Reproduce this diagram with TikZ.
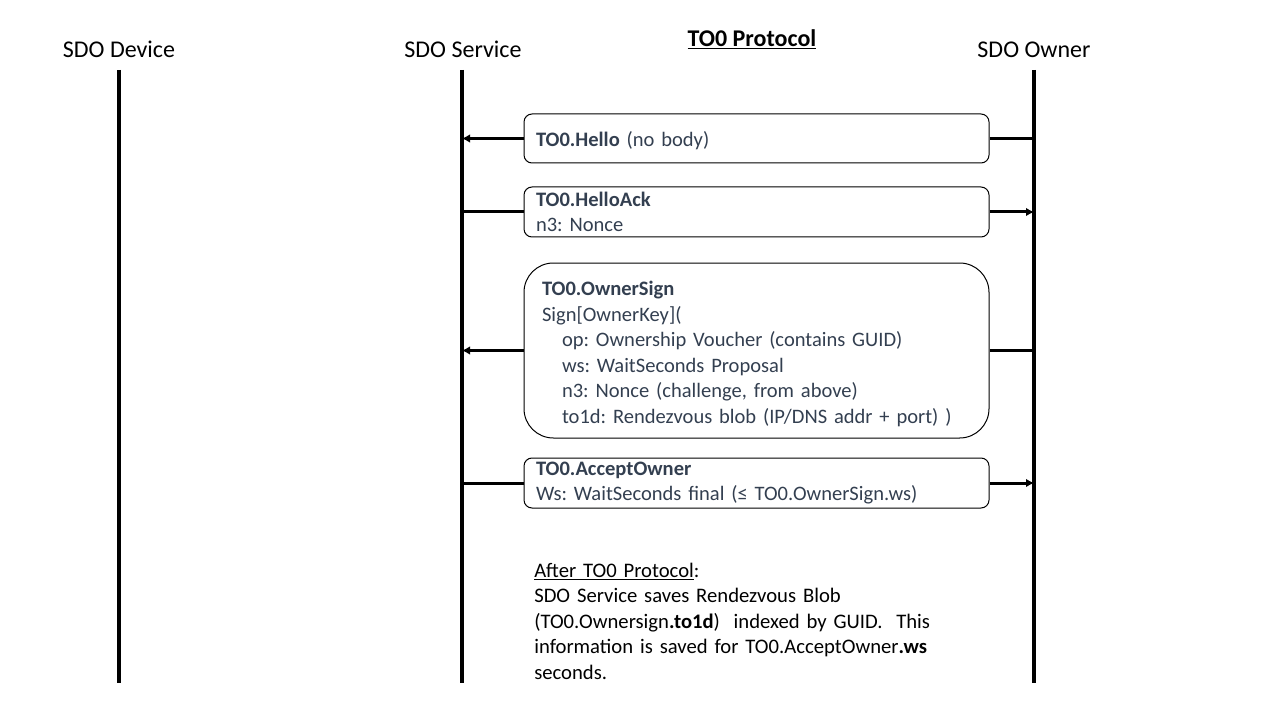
\documentclass[tikz,border=0pt]{standalone}
\usepackage{fontspec}
\setmainfont{Carlito}
\usetikzlibrary{arrows.meta, positioning}
\definecolor{slate}{RGB}{51,63,80}
\frenchspacing
\tikzset{
  lifeline/.style={line width=3pt},
  actor/.style={font=\fontsize{18}{21.6}\selectfont, anchor=base},
  msgbox/.style={draw, line width=0.75pt, rounded corners=6pt, align=left, text=slate,
    font=\fontsize{15.4}{19.2}\selectfont, inner xsep=9pt, inner ysep=1pt, text width=330.75pt},
  msgline/.style={line width=2.25pt},
  msgarrow/.style={msgline, -{Latex[length=6pt,width=6.5pt]}}
}

\begin{document}
\begin{tikzpicture}[x=0.75pt, y=-0.75pt]
  \useasboundingbox (0,0) rectangle (1280,720);
  % actors and lifelines
  \node[actor] (dev) at (119,57.5) {SDO Device};
  \node[actor] (svc) at (463,57.5) {SDO Service};
  \node[actor] (own) at (1034,57.5) {SDO Owner};
  \node[actor, font=\fontsize{18}{21.6}\selectfont\bfseries] (title) at (752,46.5) {\underline{TO0 Protocol}};
  \coordinate (devtop) at (119,70);  \coordinate (devbot) at (119,683);
  \coordinate (svctop) at (462,70);  \coordinate (svcbot) at (462,683);
  \coordinate (owntop) at (1034,70); \coordinate (ownbot) at (1034,683);
  \draw[lifeline] (devtop) -- (devbot);
  \draw[lifeline] (svctop) -- (svcbot);
  \draw[lifeline] (owntop) -- (ownbot);

  % TO0.Hello
  \node[msgbox, minimum height=36.75pt, text depth=0pt] (hello) at (756.5,138.5) {\textbf{TO0.Hello} (no body)};
  \draw[msgline] (hello.east) -- (owntop |- hello.east);
  \draw[msgarrow] (hello.west) -- (svctop |- hello.west);

  % TO0.HelloAck
  \node[msgbox, minimum height=37.5pt] (helloack) at (756.5,212) {\textbf{TO0.HelloAck}\\n3: Nonce};
  \draw[msgline] (helloack.west) -- (svctop |- helloack.west);
  \draw[msgarrow] (helloack.east) -- (owntop |- helloack.east);

  % TO0.OwnerSign
  \node[msgbox, rounded corners=22pt, inner xsep=13.5pt, text width=321.75pt, minimum height=131.25pt]
    (ownersign) at (756.5,350.5) {\rule{0pt}{16pt}\textbf{TO0.OwnerSign}\\
    Sign[OwnerKey](\\
    \hspace*{15pt}op: Ownership Voucher (contains GUID)\\
    \hspace*{15pt}ws: WaitSeconds Proposal\\
    \hspace*{15pt}n3: Nonce (challenge, from above)\\
    \hspace*{15pt}to1d: Rendezvous blob (IP/DNS addr + port) )};
  \draw[msgline] (ownersign.east) -- (owntop |- ownersign.east);
  \draw[msgarrow] (ownersign.west) -- (svctop |- ownersign.west);

  % TO0.AcceptOwner
  \node[msgbox, minimum height=37.5pt] (accept) at (756.5,483) {\textbf{TO0.AcceptOwner}\\Ws: WaitSeconds final (≤ TO0.OwnerSign.ws)};
  \draw[msgline] (accept.west) -- (svctop |- accept.west);
  \draw[msgarrow] (accept.east) -- (owntop |- accept.east);

  % note
  \node[anchor=base west, align=left, text width=330pt, inner sep=0pt, font=\fontsize{15.5}{19.2}\selectfont]
    (note) at (534,577) {\underline{After TO0 Protocol}:\\
    SDO Service saves Rendezvous Blob\\
    (TO0.Ownersign\textbf{.to1d})\ \ indexed by GUID.\ \ This\\
    information is saved for TO0.AcceptOwner\textbf{.ws}\\
    seconds.};
\end{tikzpicture}
\end{document}
